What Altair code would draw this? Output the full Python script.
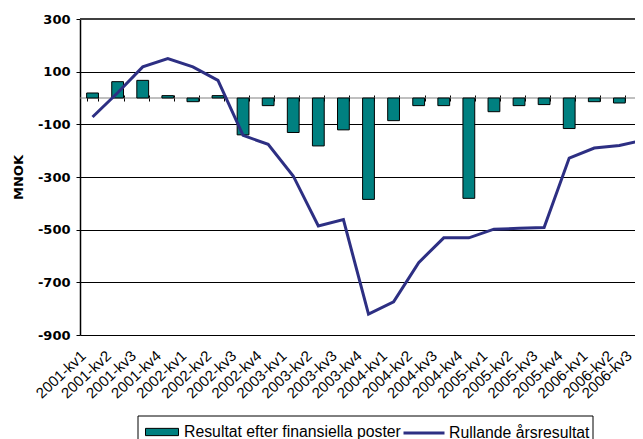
import altair as alt
import pandas as pd

categories = ["2001-kv1", "2001-kv2", "2001-kv3", "2001-kv4",
              "2002-kv1", "2002-kv2", "2002-kv3", "2002-kv4",
              "2003-kv1", "2003-kv2", "2003-kv3", "2003-kv4",
              "2004-kv1", "2004-kv2", "2004-kv3", "2004-kv4",
              "2005-kv1", "2005-kv2", "2005-kv3", "2005-kv4",
              "2006-kv1", "2006-kv2", "2006-kv3"]
resultat = [19, 62, 67, 9, -14, 9, -140, -29, -131, -182, -121, -385,
            -86, -29, -29, -381, -52, -29, -25, -116, -14, -19, -10]
rullande = [-72, 20, 118, 150, 118, 67, -142, -176, -296, -486, -462, -821,
            -774, -625, -531, -531, -498, -495, -492, -228, -190, -180, -159]
y_ticks = [300, 100, -100, -300, -500, -700, -900]
bar_name = "Resultat efter finansiella poster"
line_name = "Rullande årsresultat"

df = pd.DataFrame({"cat": categories, "bar": resultat, "roll": rullande,
                   "s1": bar_name, "s2": line_name})

TEAL = "#008080"
NAVY = "#2D2F83"

xscale = alt.Scale(domain=categories, paddingInner=0.53, paddingOuter=0.265)
yscale = alt.Scale(domain=[-900, 300], nice=False, zero=False)

base = alt.Chart(df)

bars = base.mark_bar(stroke="black", strokeWidth=1).encode(
    x=alt.X("cat:N", sort=categories, scale=xscale, title=None,
            axis=alt.Axis(orient="bottom", labelAngle=-43, labelAlign="right",
                          labelBaseline="middle", labelPadding=18,
                          labelOffset={"condition": {"test": "datum.value == '2006-kv3'", "value": -15},
                                       "value": -9},
                          ticks=False, domain=False, grid=False,
                          labelFont="Liberation Sans", labelFontSize=15,
                          labelColor="black")),
    y=alt.Y("bar:Q", scale=yscale, title="MNOK",
            axis=alt.Axis(values=y_ticks, labelExpr="datum.value + ''",
                          grid=True, gridColor="black", gridWidth=1,
                          domainColor="black", domainWidth=1.5,
                          tickColor="black", tickSize=4, labelPadding=6,
                          labelFont="DejaVu Sans", labelFontWeight="bold",
                          labelFontSize=13, labelColor="black",
                          titleFont="DejaVu Sans", titleFontWeight="bold",
                          titleFontSize=13, titleColor="black", titlePadding=12)),
    fill=alt.Fill("s1:N", scale=alt.Scale(domain=[bar_name], range=[TEAL]),
                  legend=alt.Legend(title=None, orient="none", legendX=65, legendY=396,
                                    symbolType="M-1,-0.22H1V0.22H-1Z", symbolSize=1089,
                                    symbolStrokeColor="black", symbolStrokeWidth=1,
                                    labelFont="Liberation Sans", labelFontSize=15.8,
                                    labelColor="black", labelOffset=5, labelLimit=400,
                                    padding=0)),
)

zero = alt.Chart(pd.DataFrame({"z": [0]})).mark_rule(color="#808080", strokeWidth=1).encode(
    y=alt.Y("z:Q", scale=yscale)
)
top = alt.Chart(pd.DataFrame({"t": [300]})).mark_rule(color="#404040", strokeWidth=2).encode(
    y=alt.Y("t:Q", scale=yscale)
)

line = base.mark_line(strokeWidth=3).encode(
    x=alt.X("cat:N", sort=categories, scale=xscale, title=None,
            axis=alt.Axis(orient="top", offset=-82, tickBand="extent", labels=False,
                          domain=False, grid=False, ticks=True, tickColor="black",
                          tickSize=6, tickWidth=1)),
    y=alt.Y("roll:Q", scale=yscale),
    stroke=alt.Stroke("s2:N", scale=alt.Scale(domain=[line_name], range=[NAVY]),
                      legend=alt.Legend(title=None, orient="none", legendX=322, legendY=392,
                                        symbolType="stroke", symbolSize=1681,
                                        symbolStrokeWidth=3,
                                        labelFont="Liberation Sans", labelFontSize=15.8,
                                        labelColor="black", labelOffset=3, labelLimit=400,
                                        padding=0)),
)

box = alt.Chart(pd.DataFrame({"b": [0]})).mark_rect(filled=False, stroke="black", strokeWidth=1).encode(
    x=alt.value(58), x2=alt.value(513), y=alt.value(397), y2=alt.value(440)
)

chart = alt.layer(zero, top, bars, line, box).resolve_axis(x="independent").resolve_scale(
    fill="independent", stroke="independent"
).properties(
    width=577, height=316,
    autosize=alt.AutoSizeParams(type="none"),
    padding={"left": 72, "top": 11, "right": -22, "bottom": 104},
).configure_view(strokeWidth=0)

chart.save("out.html", embed_options={"renderer": "svg", "actions": False})
